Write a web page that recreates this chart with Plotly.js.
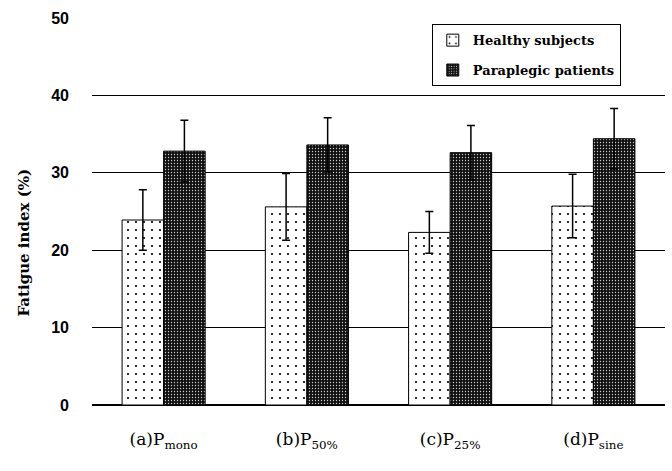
<!DOCTYPE html>
<html><head><meta charset="utf-8">
<script src="https://cdn.plot.ly/plotly-3.0.1.min.js"></script>
<style>html,body{margin:0;padding:0;background:#fff}#chart{width:672px;height:471px}</style>
</head><body><div id="chart"></div>
<script>
const categories = ["(a)P<sub>mono</sub>", "(b)P<sub>50%</sub>", "(c)P<sub>25%</sub>", "(d)P<sub>sine</sub>"];
const healthy = [23.9, 25.6, 22.3, 25.7];
const healthyErr = [3.9, 4.3, 2.7, 4.1];
const paraplegic = [32.8, 33.6, 32.6, 34.4];
const paraplegicErr = [4.0, 3.5, 3.5, 3.9];
const yTicks = [0, 10, 20, 30, 40, 50];
const yTitle = 'Fatigue index (%)';

const serif = 'DejaVu Serif';
const traces = [
  {type:'bar', name:'Healthy subjects', legendgroup:'h', x:categories, y:healthy,
   error_y:{type:'data', array:healthyErr, visible:true, color:'#000', thickness:1.5, width:4},
   marker:{color:'#fff', line:{color:'#000', width:1},
     pattern:{shape:'.', bgcolor:'#fff', fgcolor:'#000', size:8, solidity:0.06, fillmode:'replace'}}},
  {type:'bar', name:'Paraplegic patients', legendgroup:'p', x:categories, y:paraplegic,
   error_y:{type:'data', array:paraplegicErr, visible:true, color:'#000', thickness:1.5, width:4},
   marker:{color:'#111', line:{color:'#000', width:1},
     pattern:{shape:'.', bgcolor:'#111', fgcolor:'#ccc', size:3, solidity:0.15, fillmode:'replace'}}}
];

const layout = {
  width:672, height:471,
  margin:{l:92, r:7, t:18, b:66},
  paper_bgcolor:'#fff', plot_bgcolor:'#fff',
  barmode:'group', bargap:0.42, bargroupgap:0,
  showlegend:true,
  legend:{x:0.593, y:0.984, xanchor:'left', yanchor:'top', bgcolor:'#fff',
    bordercolor:'#000', borderwidth:1,
    font:{family:serif, size:13, color:'#000', weight:'bold'},
    tracegroupgap:10, itemwidth:30},
  xaxis:{type:'category', range:[-0.5,3.5], showgrid:false, showline:false, zeroline:false,
    ticks:'', ticklabelstandoff:22,
    tickfont:{family:'DejaVu Serif', size:17, color:'#000'}},
  yaxis:{range:[0,50], tickvals:yTicks, ticktext:yTicks.map(String),
    showgrid:true, gridcolor:'#000', gridwidth:1, zeroline:true, zerolinecolor:'#000', zerolinewidth:1.5,
    showline:false, ticks:'', ticklabelstandoff:22,
    tickfont:{family:'Liberation Sans', size:16, color:'#000', weight:'bold'}},
  annotations:[{text:yTitle, xref:'paper', yref:'paper', x:0, y:0.42, xanchor:'center', yanchor:'middle',
    xshift:-68, textangle:-90, showarrow:false,
    font:{family:serif, size:15, color:'#000', weight:'bold'}}]
};
Plotly.newPlot('chart', traces, layout, {displayModeBar:false, staticPlot:true});
</script></body></html>
